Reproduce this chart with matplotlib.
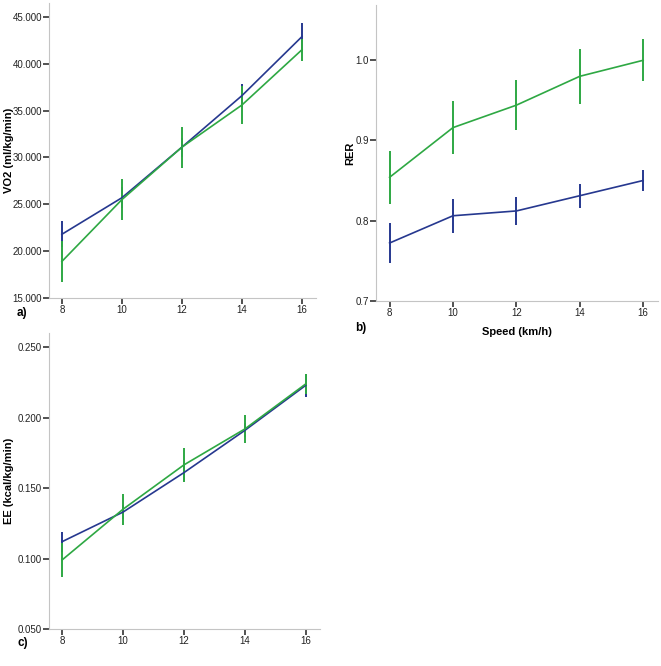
import numpy as np
from matplotlib import pyplot as plt

plt.rcParams['font.family'] = ['Liberation Sans', 'DejaVu Sans']

speed = [8, 10, 12, 14, 16]

# panel a) VO2
vo2_blue = [21.8, 25.7, 31.1, 36.6, 42.9]
vo2_blue_err = [1.4, 1.1, 1.0, 1.2, 1.5]
vo2_green = [18.9, 25.5, 31.1, 35.6, 41.5]
vo2_green_err = [2.2, 2.2, 2.2, 2.0, 1.2]

# panel b) RER
rer_blue = [0.772, 0.806, 0.812, 0.831, 0.850]
rer_blue_err = [0.025, 0.021, 0.017, 0.015, 0.013]
rer_green = [0.854, 0.916, 0.944, 0.980, 1.000]
rer_green_err = [0.033, 0.033, 0.031, 0.034, 0.026]

# panel c) EE
ee_blue = [0.112, 0.133, 0.161, 0.191, 0.223]
ee_blue_err = [0.007, 0.005, 0.006, 0.005, 0.008]
ee_green = [0.099, 0.135, 0.1665, 0.192, 0.224]
ee_green_err = [0.012, 0.011, 0.012, 0.0097, 0.007]

vo2_ticks = [15, 20, 25, 30, 35, 40, 45]
vo2_labels = ['15.000', '20.000', '25.000', '30.000', '35.000', '40.000', '45.000']
rer_ticks = [0.7, 0.8, 0.9, 1.0]
rer_labels = ['0.7', '0.8', '0.9', '1.0']
ee_ticks = [0.05, 0.10, 0.15, 0.20, 0.25]
ee_labels = ['0.050', '0.100', '0.150', '0.200', '0.250']

BLUE = '#26388f'
GREEN = '#2ea843'


def draw(ax, blue, blue_err, green, green_err, ticks, labels, ylim, ylabel, label_x):
    ax.errorbar(speed, blue, yerr=blue_err, color=BLUE, lw=1.2, elinewidth=1.4, capsize=0)
    ax.errorbar(speed, green, yerr=green_err, color=GREEN, lw=1.2, elinewidth=1.4, capsize=0)
    ax.set_xlim(7.57, 16.47)
    ax.set_ylim(*ylim)
    ax.set_xticks(speed)
    ax.set_yticks(ticks)
    ax.set_yticklabels(labels)
    ax.set_ylabel(ylabel, fontsize=8, fontweight='bold')
    ax.yaxis.set_label_coords(label_x, 0.5)
    for s in ['top', 'right']:
        ax.spines[s].set_visible(False)
    for s in ['left', 'bottom']:
        ax.spines[s].set_color('#c4c4c4')
    ax.tick_params(labelsize=7, length=4, width=1.2, color='#333333', labelcolor='#222222', pad=1)


fig = plt.figure(figsize=(6.61, 6.66), dpi=100)
ax_a = fig.add_axes([0.0741, 0.5526, 0.404, 0.443])
ax_b = fig.add_axes([0.5688, 0.5485, 0.4267, 0.444])
ax_c = fig.add_axes([0.0741, 0.0556, 0.410, 0.444])

draw(ax_a, vo2_blue, vo2_blue_err, vo2_green, vo2_green_err,
     vo2_ticks, vo2_labels, (15, 46.5), 'VO2 (ml/kg/min)', -0.131)
draw(ax_b, rer_blue, rer_blue_err, rer_green, rer_green_err,
     rer_ticks, rer_labels, (0.7, 1.069), 'RER', -0.0745)
draw(ax_c, ee_blue, ee_blue_err, ee_green, ee_green_err,
     ee_ticks, ee_labels, (0.05, 0.26), 'EE (kcal/kg/min)', -0.129)
ax_b.set_xlabel('Speed (km/h)', fontsize=8, fontweight='bold', labelpad=7)

fig.text(17 / 661, 1 - 313 / 666, 'a)', fontsize=8.5, fontweight='bold', va='center')
fig.text(355 / 661, 1 - 328 / 666, 'b)', fontsize=8.5, fontweight='bold', va='center')
fig.text(17 / 661, 1 - 643 / 666, 'c)', fontsize=8.5, fontweight='bold', va='center')

fig.savefig('out.png', dpi=100)
